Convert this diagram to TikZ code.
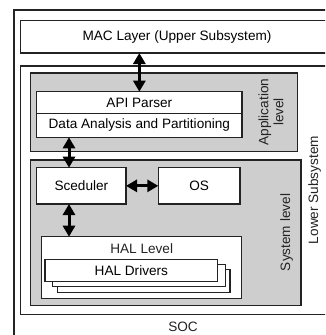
\documentclass[tikz,border=0pt]{standalone}
\usepackage{fontspec}
\setmainfont{Liberation Sans}
\usetikzlibrary{arrows.meta,calc}
\definecolor{linec}{RGB}{35,35,35}
\definecolor{panel}{RGB}{206,206,206}
\tikzset{
  box/.style={draw=linec, line width=1.1pt, fill=white, inner sep=0pt, outer sep=0pt,
    anchor=north west, font=\fontsize{13.6}{16}\selectfont},
  graybox/.style={box, fill=panel},
  lbl/.style={inner sep=0pt, font=\fontsize{13.6}{15}\selectfont, text=linec},
  dbl/.style={line width=3pt, draw=black, {Triangle[length=11pt,width=12pt]}-{Triangle[length=11pt,width=12pt]}},
}
\begin{document}
\begin{tikzpicture}[x=1pt,y=-1pt]
\useasboundingbox (0,0) rectangle (325,335);
\clip (0,0) rectangle (325,335);
\fill[white] (0,0) rectangle (325,335);
% SOC
\node[box, minimum width=340pt, minimum height=340pt] (soc) at (14,10) {};
\node[lbl] (soclbl) at (183,327) {SOC};
% MAC
\node[box, minimum width=313pt, minimum height=32.5pt] (mac) at (20.5,20.5) {MAC Layer (Upper Subsystem)};
% Lower subsystem
\node[box, minimum width=313pt, minimum height=248.5pt] (lower) at (20.5,66) {};
\node[lbl, rotate=90] (lowerlbl) at (314.5,190) {Lower Subsystem};
% Application level
\node[graybox, minimum width=267pt, minimum height=78.5pt] (app) at (30.5,73) {};
\node[lbl, rotate=90, align=center] (applbl) at (271,112) {Application\\level};
\node[box, minimum width=205.3pt, minimum height=21.6pt] (api) at (36.7,91.7) {API Parser};
\node[box, minimum width=205.3pt, minimum height=24pt] (data) at (36.7,113.3) {Data Analysis and Partitioning};
% System level
\node[graybox, minimum width=270.5pt, minimum height=145.5pt] (sys) at (30.5,160) {};
\node[lbl, rotate=90] (syslbl) at (286.5,232.5) {System level};
\node[box, minimum width=89.3pt, minimum height=36.3pt] (sced) at (36.7,167.7) {Sceduler};
\node[box, minimum width=81.7pt, minimum height=36.3pt] (os) at (158.3,167.7) {OS};
% HAL
\node[box, minimum width=200pt, minimum height=61.6pt] (hal) at (41.7,236.7) {};
\node[lbl] (hallbl) at (141.7,249) {HAL Level};
\node[box, minimum width=172.7pt, minimum height=22.4pt] (drv3) at (57.3,269.8) {};
\node[box, minimum width=172.7pt, minimum height=22.4pt] (drv2) at (52.5,264.3) {};
\node[box, minimum width=172.7pt, minimum height=22.4pt] (drv) at (45,259.3) {HAL Drivers};
% arrows
\draw[dbl] (api.north) -- (api.north |- mac.south);
\coordinate (ax) at ([xshift=32.3pt]sced.north west);
\draw[dbl] (ax) -- (ax |- data.south);
\coordinate (bx) at ([xshift=32.3pt]sced.south west);
\draw[dbl] (bx) -- (bx |- hal.north);
\draw[dbl] (sced.east) -- (os.west);
\end{tikzpicture}
\end{document}
